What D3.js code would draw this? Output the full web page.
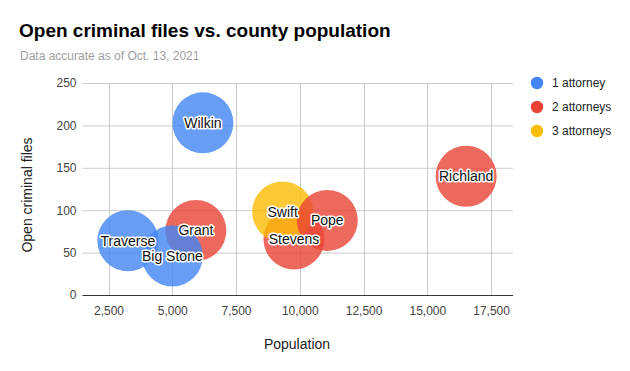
<!DOCTYPE html>
<html>
<head>
<meta charset="utf-8">
<script src="https://cdn.jsdelivr.net/npm/d3@7/dist/d3.min.js"></script>
<style>
  body { margin: 0; background: #fff; }
  text { font-family: "Liberation Sans", Arial, sans-serif; }
</style>
</head>
<body>
<script>
(function () {
  'use strict';

  // counties, drawn in this order
  const counties = ["Traverse", "Grant", "Big Stone", "Wilkin", "Stevens", "Swift", "Pope", "Richland"];
  const population = [3257, 5926, 5004, 6200, 9772, 9329, 11079, 16523];
  const openFiles = [64, 76, 46, 203, 66, 98, 88, 140];
  const attorneys = [1, 2, 1, 1, 2, 3, 2, 2];

  const legendLabels = ["1 attorney", "2 attorneys", "3 attorneys"];
  const xTicks = [2500, 5000, 7500, 10000, 12500, 15000, 17500];
  const yTicks = [0, 50, 100, 150, 200, 250];

  const colors = {1: "#4285f4", 2: "#ea4335", 3: "#fbbc04"};

  const W = 630, H = 371;
  const plot = {left: 82.5, right: 513, top: 83, bottom: 295};
  const radius = 30.5;

  const svg = d3.select("body").append("svg")
    .attr("width", W)
    .attr("height", H);

  // 比例尺
  const x = d3.scaleLinear().domain([1480, 18360]).range([plot.left, plot.right]);
  const y = d3.scaleLinear().domain([0, 250]).range([plot.bottom, plot.top]);

  // title
  svg.append("text")
    .attr("x", 19).attr("y", 37)
    .attr("font-size", "19px")
    .attr("font-weight", "bold")
    .attr("fill", "#000")
    .text("Open criminal files vs. county population");

  svg.append("text")
    .attr("x", 20).attr("y", 60)
    .attr("font-size", "12px")
    .attr("fill", "#9e9e9e")
    .text("Data accurate as of Oct. 13, 2021");

  // gridlines
  svg.append("g")
    .selectAll("line")
    .data(yTicks.filter(d => d > 0))
    .enter().append("line")
    .attr("x1", plot.left).attr("x2", plot.right)
    .attr("y1", d => y(d) + 0.5).attr("y2", d => y(d) + 0.5)
    .attr("stroke", "#cccccc");

  svg.append("g")
    .selectAll("line")
    .data(xTicks)
    .enter().append("line")
    .attr("x1", d => Math.round(x(d)) + 0.5).attr("x2", d => Math.round(x(d)) + 0.5)
    .attr("y1", plot.top).attr("y2", plot.bottom)
    .attr("stroke", "#cccccc");

  // axes (lines removed, labels kept)
  const xAxis = d3.axisBottom(x).tickValues(xTicks).tickSize(0).tickPadding(11)
    .tickFormat(d3.format(","));
  const gx = svg.append("g")
    .attr("transform", `translate(0,${plot.bottom})`)
    .call(xAxis);
  gx.select(".domain").remove();
  gx.selectAll("text").attr("font-size", "12px").attr("fill", "#444")
    .attr("font-family", "'Liberation Sans', Arial, sans-serif");

  const yAxis = d3.axisLeft(y).tickValues(yTicks).tickSize(0).tickPadding(6);
  const gy = svg.append("g")
    .attr("transform", `translate(${plot.left},0)`)
    .call(yAxis);
  gy.select(".domain").remove();
  gy.selectAll("text").attr("font-size", "12px").attr("fill", "#444")
    .attr("font-family", "'Liberation Sans', Arial, sans-serif");

  // baseline
  svg.append("line")
    .attr("x1", plot.left).attr("x2", plot.right)
    .attr("y1", y(0) + 0.5).attr("y2", y(0) + 0.5)
    .attr("stroke", "#333");

  // axis titles
  svg.append("text")
    .attr("x", 297).attr("y", 349)
    .attr("text-anchor", "middle")
    .attr("font-size", "14px")
    .attr("fill", "#222")
    .text("Population");

  svg.append("text")
    .attr("transform", `translate(32,195) rotate(-90)`)
    .attr("text-anchor", "middle")
    .attr("font-size", "14px")
    .attr("fill", "#222")
    .text("Open criminal files");

  // bubbles
  const idx = d3.range(counties.length);

  svg.append("g")
    .selectAll("circle")
    .data(idx)
    .enter().append("circle")
    .attr("cx", i => x(population[i]))
    .attr("cy", i => y(openFiles[i]))
    .attr("r", radius)
    .attr("fill", i => colors[attorneys[i]])
    .attr("fill-opacity", 0.8);

  svg.append("g")
    .selectAll("text")
    .data(idx)
    .enter().append("text")
    .attr("x", i => x(population[i]))
    .attr("y", i => y(openFiles[i]))
    .attr("dy", "0.35em")
    .attr("text-anchor", "middle")
    .attr("font-size", "14px")
    .attr("fill", "#111")
    .attr("stroke", "#fff")
    .attr("stroke-width", 3)
    .attr("stroke-linejoin", "round")
    .attr("paint-order", "stroke")
    .text(i => counties[i]);

  // legend
  const legend = svg.append("g")
    .selectAll("g")
    .data(legendLabels)
    .enter().append("g")
    .attr("transform", (d, i) => `translate(537,${83 + i * 24})`);

  legend.append("circle")
    .attr("r", 6.2)
    .attr("fill", (d, i) => colors[i + 1]);

  legend.append("text")
    .attr("x", 15).attr("dy", "0.35em")
    .attr("font-size", "12px")
    .attr("fill", "#222")
    .text(d => d);
})();
</script>
</body>
</html>
